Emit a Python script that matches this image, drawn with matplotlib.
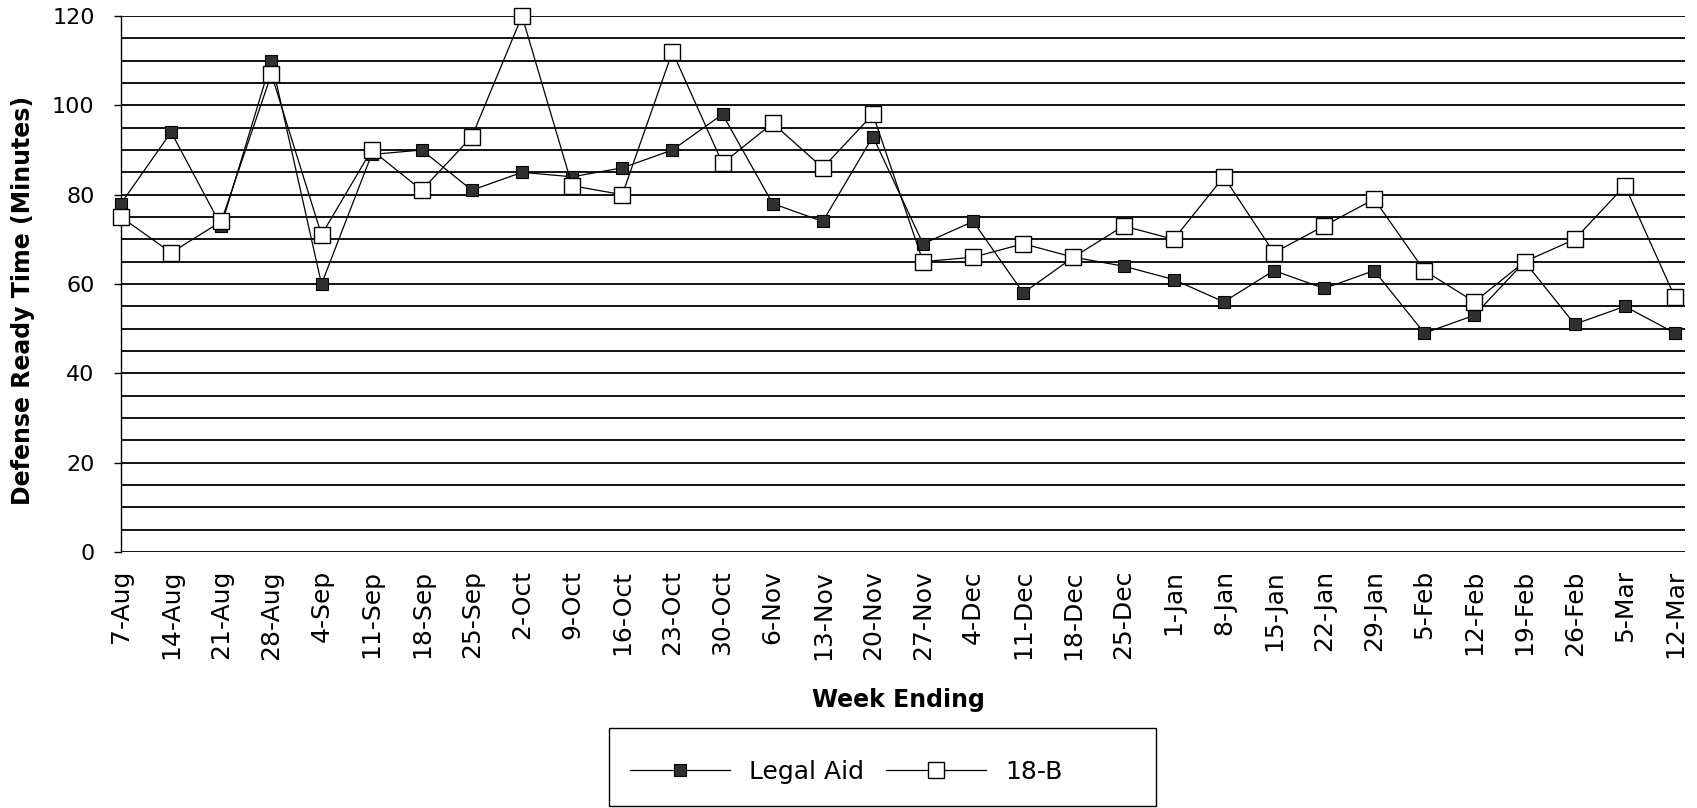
import matplotlib
matplotlib.use("Agg")
import matplotlib.pyplot as plt
from matplotlib.patches import Rectangle
from matplotlib.ticker import MultipleLocator

weeks = ["7-Aug", "14-Aug", "21-Aug", "28-Aug", "4-Sep", "11-Sep", "18-Sep", "25-Sep",
         "2-Oct", "9-Oct", "16-Oct", "23-Oct", "30-Oct", "6-Nov", "13-Nov", "20-Nov",
         "27-Nov", "4-Dec", "11-Dec", "18-Dec", "25-Dec", "1-Jan", "8-Jan", "15-Jan",
         "22-Jan", "29-Jan", "5-Feb", "12-Feb", "19-Feb", "26-Feb", "5-Mar", "12-Mar"]

legal_aid = [78, 94, 73, 110, 60, 89, 90, 81, 85, 84, 86, 90, 98, 78, 74, 93,
             69, 74, 58, 66, 64, 61, 56, 63, 59, 63, 49, 53, 65, 51, 55, 49]

b18 = [75, 67, 74, 107, 71, 90, 81, 93, 120, 82, 80, 112, 87, 96, 86, 98,
       65, 66, 69, 66, 73, 70, 84, 67, 73, 79, 63, 56, 65, 70, 82, 57]

plt.rcParams["font.family"] = "DejaVu Sans"

fig = plt.figure(figsize=(16.97, 8.08), dpi=100)
ax = fig.add_axes([121 / 1697, 1 - 552 / 808, 1564 / 1697, 536 / 808])

x = list(range(len(weeks)))

la_line, = ax.plot(
    x, legal_aid,
    color="black", linewidth=0.9,
    marker="s", markersize=8,
    markerfacecolor="#303030", markeredgecolor="black", markeredgewidth=0.8,
    clip_on=False, zorder=3,
    label="Legal Aid"
)

b18_line, = ax.plot(
    x, b18,
    color="black", linewidth=0.9,
    marker="s", markersize=11,
    markerfacecolor="white", markeredgecolor="black", markeredgewidth=1.0,
    clip_on=False, zorder=4,
    label="18-B"
)

ax.set_xlim(0, 31.2)
ax.set_ylim(0, 120)

ax.yaxis.set_major_locator(MultipleLocator(20))
ax.yaxis.set_minor_locator(MultipleLocator(5))
ax.grid(True, axis="y", which="both", color="black", linewidth=1.3)
ax.set_axisbelow(True)

ax.set_xticks(x)
ax.set_xticklabels(weeks, rotation=90, fontsize=18)
ax.tick_params(axis="x", length=0, pad=13)
ax.tick_params(axis="y", which="major", length=5, width=1, pad=14, labelsize=16, direction="out")
ax.tick_params(axis="y", which="minor", length=0)

for side in ["top", "right", "bottom"]:
    ax.spines[side].set_visible(False)
ax.spines["left"].set_linewidth(1)

ax.set_ylabel("Defense Ready Time (Minutes)", fontsize=17, fontweight="bold")
ax.yaxis.set_label_coords(-0.0552, 0.47)

fig.text(898 / 1697, 1 - 700 / 808, "Week Ending", fontsize=17, fontweight="bold",
         ha="center", va="center")

fig.legend(
    handles=[la_line, b18_line],
    loc="center left",
    bbox_to_anchor=(630 / 1697, 1 - 772 / 808),
    ncol=2,
    frameon=False,
    fontsize=18,
    handlelength=4.0,
    handletextpad=0.75,
    columnspacing=0.9,
    borderpad=0,
    borderaxespad=0,
    numpoints=1
)

fig.patches.append(Rectangle((609 / 1697, 2 / 808), 547 / 1697, 78 / 808,
                             transform=fig.transFigure, fill=False,
                             edgecolor="black", linewidth=1))

plt.savefig("out.png", dpi=100)
